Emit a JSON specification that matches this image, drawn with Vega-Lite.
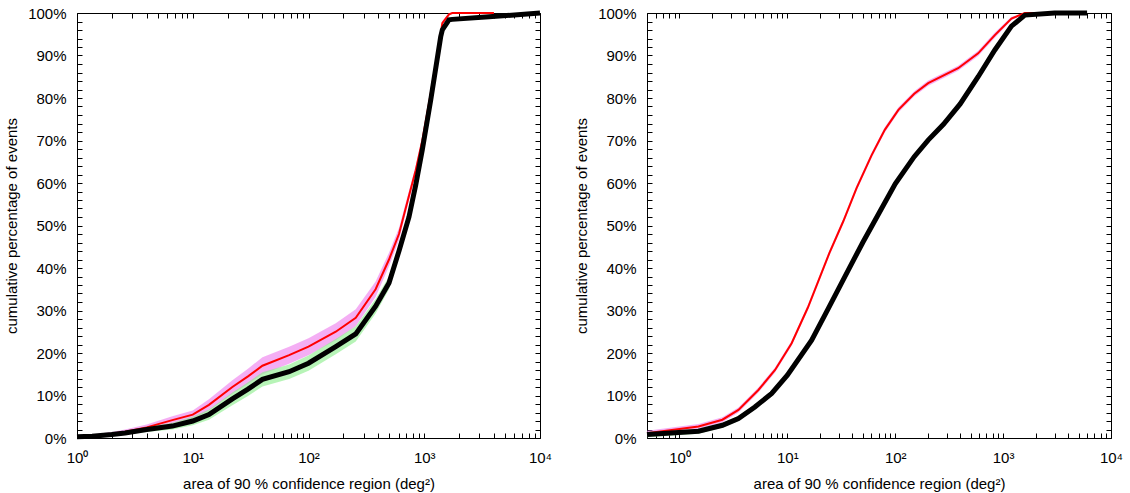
{
  "$schema": "https://vega.github.io/schema/vega-lite/v6.json",
  "padding": {"left": 4, "top": 2, "right": 5, "bottom": 0},
  "background": "white",
  "config": {
    "view": {"stroke": "black", "strokeWidth": 1},
    "axis": {
      "labelFont": "Liberation Sans", "labelFontSize": 15, "labelColor": "black",
      "titleFont": "Liberation Sans", "titleFontSize": 15, "titleFontWeight": "normal", "titleColor": "black",
      "domain": false, "grid": false, "labelFlush": false, "labelOverlap": false
    },
    "legend": {
      "title": null, "orient": "none", "legendX": 102, "legendY": 5, "symbolType": "M-4.5,0H4.5", "symbolSize": 100,
      "labelAlign": "right", "labelOffset": -37, "labelFontSize": 15, "labelFont": "Liberation Sans", "labelColor": "black",
      "rowPadding": -2, "padding": 0
    }
  },
  "datasets": {
    "left": [
      {"s": "100% DC", "x": 1, "y": 0.3, "lo": 0.1, "hi": 0.5},
      {"s": "100% DC", "x": 1.35, "y": 0.5, "lo": 0.2, "hi": 0.8},
      {"s": "100% DC", "x": 2, "y": 1.0, "lo": 0.6, "hi": 1.4},
      {"s": "100% DC", "x": 2.6, "y": 1.5, "lo": 1.0, "hi": 2.0},
      {"s": "100% DC", "x": 4, "y": 2.5, "lo": 1.8, "hi": 3.2},
      {"s": "100% DC", "x": 6.66, "y": 4.2, "lo": 3.3, "hi": 5.1},
      {"s": "100% DC", "x": 10, "y": 5.5, "lo": 4.5, "hi": 6.5},
      {"s": "100% DC", "x": 13.8, "y": 7.8, "lo": 6.5, "hi": 9.1},
      {"s": "100% DC", "x": 22, "y": 12.0, "lo": 10.4, "hi": 13.6},
      {"s": "100% DC", "x": 30, "y": 14.5, "lo": 12.7, "hi": 16.3},
      {"s": "100% DC", "x": 40, "y": 17.0, "lo": 15.0, "hi": 19.0},
      {"s": "100% DC", "x": 68, "y": 19.5, "lo": 17.5, "hi": 21.5},
      {"s": "100% DC", "x": 100, "y": 21.5, "lo": 19.5, "hi": 23.5},
      {"s": "100% DC", "x": 172, "y": 25.0, "lo": 23.0, "hi": 27.0},
      {"s": "100% DC", "x": 256, "y": 28.3, "lo": 26.3, "hi": 30.3},
      {"s": "100% DC", "x": 380, "y": 35.0, "lo": 33.2, "hi": 36.8},
      {"s": "100% DC", "x": 496, "y": 42.0, "lo": 40.4, "hi": 43.6},
      {"s": "100% DC", "x": 605, "y": 48.0, "lo": 46.6, "hi": 49.4},
      {"s": "100% DC", "x": 738, "y": 57.0, "lo": 55.8, "hi": 58.2},
      {"s": "100% DC", "x": 844, "y": 63.0, "lo": 62.0, "hi": 64.0},
      {"s": "100% DC", "x": 962, "y": 70.0, "lo": 69.1, "hi": 70.9},
      {"s": "100% DC", "x": 1137, "y": 81.0, "lo": 80.2, "hi": 81.8},
      {"s": "100% DC", "x": 1387, "y": 95.0, "lo": 94.4, "hi": 95.6},
      {"s": "100% DC", "x": 1432, "y": 97.6, "lo": 97.1, "hi": 98.1},
      {"s": "100% DC", "x": 1636, "y": 99.7, "lo": 99.4, "hi": 100},
      {"s": "100% DC", "x": 1746, "y": 100, "lo": 99.9, "hi": 100},
      {"s": "100% DC", "x": 4000, "y": 100, "lo": 99.9, "hi": 100},
      {"s": "80% DC", "x": 1, "y": 0.3, "lo": 0.1, "hi": 0.5},
      {"s": "80% DC", "x": 1.35, "y": 0.4, "lo": 0.2, "hi": 0.6},
      {"s": "80% DC", "x": 2, "y": 0.8, "lo": 0.5, "hi": 1.1},
      {"s": "80% DC", "x": 2.6, "y": 1.2, "lo": 0.8, "hi": 1.6},
      {"s": "80% DC", "x": 4, "y": 2.0, "lo": 1.4, "hi": 2.6},
      {"s": "80% DC", "x": 6.66, "y": 2.8, "lo": 2.0, "hi": 3.6},
      {"s": "80% DC", "x": 10, "y": 4.0, "lo": 3.0, "hi": 5.0},
      {"s": "80% DC", "x": 13.8, "y": 5.5, "lo": 4.3, "hi": 6.7},
      {"s": "80% DC", "x": 22, "y": 9.2, "lo": 7.7, "hi": 10.7},
      {"s": "80% DC", "x": 30, "y": 11.5, "lo": 9.9, "hi": 13.1},
      {"s": "80% DC", "x": 40, "y": 13.8, "lo": 12.1, "hi": 15.5},
      {"s": "80% DC", "x": 68, "y": 15.6, "lo": 13.9, "hi": 17.3},
      {"s": "80% DC", "x": 100, "y": 17.6, "lo": 15.8, "hi": 19.4},
      {"s": "80% DC", "x": 172, "y": 21.5, "lo": 19.7, "hi": 23.3},
      {"s": "80% DC", "x": 256, "y": 24.5, "lo": 22.7, "hi": 26.3},
      {"s": "80% DC", "x": 380, "y": 31.0, "lo": 29.3, "hi": 32.7},
      {"s": "80% DC", "x": 496, "y": 36.5, "lo": 35.0, "hi": 38.0},
      {"s": "80% DC", "x": 605, "y": 44.0, "lo": 42.6, "hi": 45.4},
      {"s": "80% DC", "x": 738, "y": 52.0, "lo": 50.8, "hi": 53.2},
      {"s": "80% DC", "x": 844, "y": 59.5, "lo": 58.5, "hi": 60.5},
      {"s": "80% DC", "x": 962, "y": 67.8, "lo": 66.9, "hi": 68.7},
      {"s": "80% DC", "x": 1137, "y": 79.5, "lo": 78.7, "hi": 80.3},
      {"s": "80% DC", "x": 1387, "y": 94.4, "lo": 93.8, "hi": 95.0},
      {"s": "80% DC", "x": 1432, "y": 96.0, "lo": 95.5, "hi": 96.5},
      {"s": "80% DC", "x": 1636, "y": 98.4, "lo": 98.0, "hi": 98.8},
      {"s": "80% DC", "x": 1746, "y": 98.5, "lo": 98.2, "hi": 98.8},
      {"s": "80% DC", "x": 3630, "y": 99.1, "lo": 98.9, "hi": 99.3},
      {"s": "80% DC", "x": 10000, "y": 100, "lo": 100, "hi": 100}
    ],
    "right": [
      {"s": "100% DC", "x": 0.5, "y": 1.1, "lo": 0.5, "hi": 1.7},
      {"s": "100% DC", "x": 1.5, "y": 2.7, "lo": 2.1, "hi": 3.3},
      {"s": "100% DC", "x": 2.5, "y": 4.3, "lo": 3.7, "hi": 4.9},
      {"s": "100% DC", "x": 3.52, "y": 6.6, "lo": 6.0, "hi": 7.2},
      {"s": "100% DC", "x": 5.39, "y": 11.3, "lo": 10.7, "hi": 11.9},
      {"s": "100% DC", "x": 7.69, "y": 16.0, "lo": 15.4, "hi": 16.6},
      {"s": "100% DC", "x": 10.96, "y": 22.3, "lo": 21.7, "hi": 22.9},
      {"s": "100% DC", "x": 15.5, "y": 30.7, "lo": 30.1, "hi": 31.3},
      {"s": "100% DC", "x": 24.5, "y": 43.5, "lo": 42.9, "hi": 44.1},
      {"s": "100% DC", "x": 33, "y": 51.0, "lo": 50.4, "hi": 51.6},
      {"s": "100% DC", "x": 43.8, "y": 58.8, "lo": 58.2, "hi": 59.4},
      {"s": "100% DC", "x": 60.3, "y": 66.5, "lo": 65.9, "hi": 67.1},
      {"s": "100% DC", "x": 80, "y": 72.5, "lo": 71.9, "hi": 73.1},
      {"s": "100% DC", "x": 107, "y": 77.2, "lo": 76.6, "hi": 77.8},
      {"s": "100% DC", "x": 150, "y": 81.0, "lo": 80.4, "hi": 81.6},
      {"s": "100% DC", "x": 202, "y": 83.5, "lo": 82.9, "hi": 84.1},
      {"s": "100% DC", "x": 383, "y": 87.0, "lo": 86.4, "hi": 87.6},
      {"s": "100% DC", "x": 587, "y": 90.5, "lo": 89.9, "hi": 91.1},
      {"s": "100% DC", "x": 838, "y": 94.8, "lo": 94.2, "hi": 95.4},
      {"s": "100% DC", "x": 1195, "y": 98.7, "lo": 98.3, "hi": 99.1},
      {"s": "100% DC", "x": 1590, "y": 100, "lo": 99.8, "hi": 100},
      {"s": "100% DC", "x": 2000, "y": 100, "lo": 99.9, "hi": 100},
      {"s": "80% DC", "x": 0.5, "y": 0.8, "lo": 0.2, "hi": 1.4},
      {"s": "80% DC", "x": 1.5, "y": 1.6, "lo": 1.0, "hi": 2.2},
      {"s": "80% DC", "x": 2.5, "y": 3.0, "lo": 2.4, "hi": 3.6},
      {"s": "80% DC", "x": 3.52, "y": 4.6, "lo": 4.0, "hi": 5.2},
      {"s": "80% DC", "x": 5, "y": 7.3, "lo": 6.7, "hi": 7.9},
      {"s": "80% DC", "x": 7.16, "y": 10.5, "lo": 9.9, "hi": 11.1},
      {"s": "80% DC", "x": 10, "y": 14.8, "lo": 14.2, "hi": 15.4},
      {"s": "80% DC", "x": 16.8, "y": 23.0, "lo": 22.4, "hi": 23.6},
      {"s": "80% DC", "x": 24, "y": 30.5, "lo": 29.9, "hi": 31.1},
      {"s": "80% DC", "x": 36.7, "y": 39.5, "lo": 38.9, "hi": 40.1},
      {"s": "80% DC", "x": 50, "y": 46.0, "lo": 45.4, "hi": 46.6},
      {"s": "80% DC", "x": 74.7, "y": 54.0, "lo": 53.4, "hi": 54.6},
      {"s": "80% DC", "x": 100, "y": 59.8, "lo": 59.2, "hi": 60.4},
      {"s": "80% DC", "x": 150, "y": 66.2, "lo": 65.6, "hi": 66.8},
      {"s": "80% DC", "x": 202, "y": 70.1, "lo": 69.5, "hi": 70.7},
      {"s": "80% DC", "x": 280, "y": 73.8, "lo": 73.2, "hi": 74.4},
      {"s": "80% DC", "x": 400, "y": 78.6, "lo": 78.0, "hi": 79.2},
      {"s": "80% DC", "x": 587, "y": 85.0, "lo": 84.4, "hi": 85.6},
      {"s": "80% DC", "x": 838, "y": 91.3, "lo": 90.7, "hi": 91.9},
      {"s": "80% DC", "x": 1195, "y": 96.9, "lo": 96.4, "hi": 97.4},
      {"s": "80% DC", "x": 1590, "y": 99.5, "lo": 99.2, "hi": 99.8},
      {"s": "80% DC", "x": 3000, "y": 100, "lo": 99.9, "hi": 100},
      {"s": "80% DC", "x": 6000, "y": 100, "lo": 100, "hi": 100}
    ]
  },
  "hconcat": [
    {
      "width": 463, "height": 425,
      "data": {"name": "left"},
      "layer": [
        {
          "mark": {"type": "area", "opacity": 0.65},
          "encoding": {
            "x": {"field": "x", "type": "quantitative", "scale": {"type": "log", "domain": [1, 10000], "nice": false},
              "axis": {"orient": "bottom", "tickColor": "black", "tickWidth": 1, "values": [1, 2, 3, 4, 5, 6, 7, 8, 9, 10, 20, 30, 40, 50, 60, 70, 80, 90, 100, 200, 300, 400, 500, 600, 700, 800, 900, 1000, 2000, 3000, 4000, 5000, 6000, 7000, 8000, 9000, 10000], "labelExpr": "indexof([1, 10, 100, 1000, 10000], datum.value) >= 0 ? '10' + ['⁰','¹','²','³','⁴'][round(log(datum.value)/LN10)] : ''", "tickSize": 5, "offset": -5, "labelPadding": 12, "title": "area of 90 % confidence region (deg²)", "titlePadding": 11}},
            "y": {"field": "lo", "type": "quantitative", "scale": {"domain": [0, 100], "nice": false},
              "axis": {"orient": "left", "tickColor": "black", "tickWidth": 1, "tickCount": 50, "labelExpr": "datum.value % 10 === 0 ? datum.value + '%' : ''", "tickSize": 5, "offset": -5, "labelPadding": 11, "title": "cumulative percentage of events", "titlePadding": 8}},
            "y2": {"field": "hi"},
            "fill": {"field": "s", "type": "nominal", "scale": {"domain": ["100% DC", "80% DC"], "range": ["#ee82ee", "#90ee90"]}, "legend": null}
          }
        },
        {
          "mark": {"type": "line"},
          "encoding": {
            "x": {"field": "x", "type": "quantitative",
              "axis": {"orient": "top", "tickColor": "black", "tickWidth": 1, "values": [1, 2, 3, 4, 5, 6, 7, 8, 9, 10, 20, 30, 40, 50, 60, 70, 80, 90, 100, 200, 300, 400, 500, 600, 700, 800, 900, 1000, 2000, 3000, 4000, 5000, 6000, 7000, 8000, 9000, 10000], "labels": false, "tickSize": 5, "offset": -5, "title": null}},
            "y": {"field": "y", "type": "quantitative",
              "axis": {"orient": "right", "tickColor": "black", "tickWidth": 1, "tickCount": 50, "labels": false, "tickSize": 5, "offset": -5, "title": null}},
            "stroke": {"field": "s", "type": "nominal", "scale": {"domain": ["100% DC", "80% DC"], "range": ["#ff0000", "#000000"]}},
            "strokeWidth": {"field": "s", "type": "ordinal", "scale": {"domain": ["100% DC", "80% DC"], "range": [2, 5]}}
          }
        }
      ],
      "resolve": {"axis": {"x": "independent", "y": "independent"}}
    },
    {
      "width": 464, "height": 425,
      "data": {"name": "right"},
      "layer": [
        {
          "mark": {"type": "area", "opacity": 0.65},
          "encoding": {
            "x": {"field": "x", "type": "quantitative", "scale": {"type": "log", "domain": [0.5, 10000], "nice": false},
              "axis": {"orient": "bottom", "tickColor": "black", "tickWidth": 1, "values": [0.5, 0.6, 0.7, 0.8, 0.9, 1, 2, 3, 4, 5, 6, 7, 8, 9, 10, 20, 30, 40, 50, 60, 70, 80, 90, 100, 200, 300, 400, 500, 600, 700, 800, 900, 1000, 2000, 3000, 4000, 5000, 6000, 7000, 8000, 9000, 10000], "labelExpr": "indexof([1, 10, 100, 1000, 10000], datum.value) >= 0 ? '10' + ['⁰','¹','²','³','⁴'][round(log(datum.value)/LN10)] : ''", "tickSize": 5, "offset": -5, "labelPadding": 12, "title": "area of 90 % confidence region (deg²)", "titlePadding": 11}},
            "y": {"field": "lo", "type": "quantitative", "scale": {"domain": [0, 100], "nice": false},
              "axis": {"orient": "left", "tickColor": "black", "tickWidth": 1, "tickCount": 50, "labelExpr": "datum.value % 10 === 0 ? datum.value + '%' : ''", "tickSize": 5, "offset": -5, "labelPadding": 11, "title": "cumulative percentage of events", "titlePadding": 8}},
            "y2": {"field": "hi"},
            "fill": {"field": "s", "type": "nominal", "scale": {"domain": ["100% DC", "80% DC"], "range": ["#ee82ee", "#90ee90"]}, "legend": null}
          }
        },
        {
          "mark": {"type": "line"},
          "encoding": {
            "x": {"field": "x", "type": "quantitative",
              "axis": {"orient": "top", "tickColor": "black", "tickWidth": 1, "values": [0.5, 0.6, 0.7, 0.8, 0.9, 1, 2, 3, 4, 5, 6, 7, 8, 9, 10, 20, 30, 40, 50, 60, 70, 80, 90, 100, 200, 300, 400, 500, 600, 700, 800, 900, 1000, 2000, 3000, 4000, 5000, 6000, 7000, 8000, 9000, 10000], "labels": false, "tickSize": 5, "offset": -5, "title": null}},
            "y": {"field": "y", "type": "quantitative",
              "axis": {"orient": "right", "tickColor": "black", "tickWidth": 1, "tickCount": 50, "labels": false, "tickSize": 5, "offset": -5, "title": null}},
            "stroke": {"field": "s", "type": "nominal", "scale": {"domain": ["100% DC", "80% DC"], "range": ["#ff0000", "#000000"]}},
            "strokeWidth": {"field": "s", "type": "ordinal", "scale": {"domain": ["100% DC", "80% DC"], "range": [2, 5]}}
          }
        }
      ],
      "resolve": {"axis": {"x": "independent", "y": "independent"}}
    }
  ],
  "spacing": 21,
  "resolve": {
    "scale": {"x": "independent", "y": "independent", "fill": "independent", "stroke": "independent", "strokeWidth": "independent"},
    "legend": {"stroke": "independent", "strokeWidth": "independent"}
  }
}
